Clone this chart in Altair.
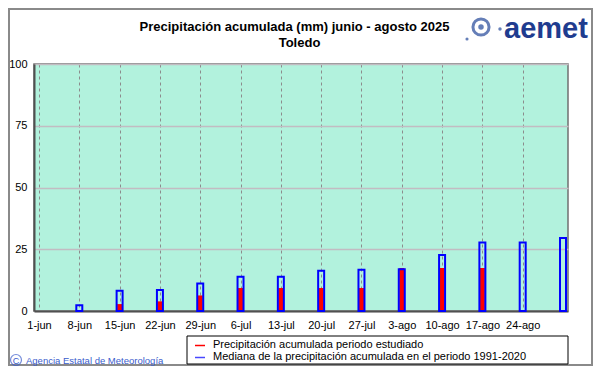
import altair as alt
import pandas as pd

# ---- data ----
week_labels = ["1-jun", "8-jun", "15-jun", "22-jun", "29-jun", "6-jul", "13-jul",
               "20-jul", "27-jul", "3-ago", "10-ago", "17-ago", "24-ago"]
bar_dates = ["8-jun", "15-jun", "22-jun", "29-jun", "6-jul", "13-jul", "20-jul",
             "27-jul", "3-ago", "10-ago", "17-ago", "24-ago", "31-ago"]
median_values = [2.3, 8.2, 8.5, 11.1, 13.9, 13.9, 16.3, 16.7, 16.9, 22.7, 27.7, 27.7, 29.6]
observed_values = [0.0, 2.8, 3.9, 6.3, 9.3, 9.3, 9.3, 9.3, 17.4, 17.4, 17.4, None, None]
y_ticks = [0, 25, 50, 75, 100]

title_line1 = "Precipitación acumulada (mm) junio - agosto 2025"
title_line2 = "Toledo"
legend_labels = ["Precipitación acumulada periodo estudiado",
                 "Mediana de la precipitación acumulada en el periodo 1991-2020"]
credit = "Agencia Estatal de Meteorología"
logo_text = "aemet"

# ---- tables ----
days = [7 * (i + 1) for i in range(len(bar_dates))]
df = pd.DataFrame({"fecha": bar_dates, "dia": days,
                   "mediana": median_values, "observada": observed_values})
one = pd.DataFrame({"k": [0]})

label_array = "[" + ",".join("'" + s + "'" for s in week_labels) + "]"
tick_days = [7 * i for i in range(len(week_labels))]

FONT = "Liberation Sans"

x_enc = alt.X(
    "dia:Q",
    scale=alt.Scale(domain=[0, 91], nice=False, zero=False),
    axis=alt.Axis(values=tick_days, labelExpr=label_array + "[round(datum.value/7)]",
                  title=None, grid=True, gridDash=[3, 3], gridColor="#8c8c8c",
                  gridWidth=1, domainColor="#505050", domainWidth=2, ticks=False,
                  labelFontSize=11, labelPadding=8, labelColor="#000000",
                  labelFlush=False, labelOverlap=False, labelFont=FONT),
)
y_axis = alt.Axis(values=y_ticks, title=None, grid=True, gridColor="#c2bcc2",
                  gridWidth=1.5, domainColor="#505050", domainWidth=2, ticks=False,
                  labelFontSize=11, labelPadding=7, labelColor="#000000", labelFont=FONT)

frame = alt.Chart(one).mark_rect(fillOpacity=0, stroke="#8a8a8a", strokeWidth=2).encode(
    x=alt.value(-25), x2=alt.value(558), y=alt.value(-55), y2=alt.value(301))

red = alt.Chart(df).mark_bar(color="#ff0000", size=5).encode(
    x=x_enc,
    y=alt.Y("observada:Q", scale=alt.Scale(domain=[0, 100], nice=False), axis=y_axis),
).transform_filter("isValid(datum.observada)")

blue = alt.Chart(df).mark_bar(fillOpacity=0, stroke="#0000ff", strokeWidth=2, size=6).encode(
    x=x_enc,
    y=alt.Y("mediana:Q", scale=alt.Scale(domain=[0, 100], nice=False), axis=y_axis),
)

t1 = alt.Chart(one).mark_text(text=title_line1, font=FONT, fontSize=13, fontWeight="bold",
                              align="center", baseline="middle", color="#000000").encode(
    x=alt.value(260.5), y=alt.value(-37))
t2 = alt.Chart(one).mark_text(text=title_line2, font=FONT, fontSize=13, fontWeight="bold",
                              align="center", baseline="middle", color="#000000").encode(
    x=alt.value(265.5), y=alt.value(-21))

logo = alt.Chart(one).mark_text(text=logo_text, font=FONT, fontSize=29, fontWeight="bold",
                                align="left", baseline="alphabetic", color="#1f3c8f").encode(
    x=alt.value(470), y=alt.value(-26))
ring1 = alt.Chart(one).mark_point(shape="circle", filled=False, color="#24489a",
                                  strokeWidth=3, size=260).encode(
    x=alt.value(447), y=alt.value(-37))
ring2 = alt.Chart(one).mark_point(shape="circle", filled=True, color="#24489a",
                                  size=30).encode(
    x=alt.value(447), y=alt.value(-37))
dot1 = alt.Chart(one).mark_point(shape="circle", filled=True, color="#24489a",
                                 size=12).encode(x=alt.value(466), y=alt.value(-35))
dot2 = alt.Chart(one).mark_point(shape="circle", filled=True, color="#24489a",
                                 size=10).encode(x=alt.value(433), y=alt.value(-25))

legend_box = alt.Chart(one).mark_rect(fill="#ffffff", stroke="#000000", strokeWidth=1).encode(
    x=alt.value(153), x2=alt.value(534), y=alt.value(272), y2=alt.value(300))
leg_red = alt.Chart(one).mark_rule(color="#ff0000", strokeWidth=1.5).encode(
    x=alt.value(161), x2=alt.value(171), y=alt.value(281.5))
leg_blue = alt.Chart(one).mark_rule(color="#4848ff", strokeWidth=1.5).encode(
    x=alt.value(161), x2=alt.value(171), y=alt.value(293.5))
leg_t1 = alt.Chart(one).mark_text(text=legend_labels[0], font=FONT, fontSize=11,
                                  align="left", baseline="middle", color="#000000").encode(
    x=alt.value(179), y=alt.value(281))
leg_t2 = alt.Chart(one).mark_text(text=legend_labels[1], font=FONT, fontSize=11,
                                  align="left", baseline="middle", color="#000000").encode(
    x=alt.value(179), y=alt.value(293))

copy_ring = alt.Chart(one).mark_point(shape="circle", filled=False, color="#3a5ccc",
                                      strokeWidth=1.2, size=120).encode(
    x=alt.value(-18), y=alt.value(296))
copy_c = alt.Chart(one).mark_text(text="C", font=FONT, fontSize=9,
                                  align="center", baseline="middle", color="#3a5ccc").encode(
    x=alt.value(-18), y=alt.value(296.5))
copy_txt = alt.Chart(one).mark_text(text=credit, font=FONT, fontSize=9.5,
                                    align="left", baseline="middle", color="#3a5ccc").encode(
    x=alt.value(-8), y=alt.value(296.5))

chart = alt.layer(
    frame, red, blue, t1, t2, logo, ring1, ring2, dot1, dot2,
    legend_box, leg_red, leg_blue, leg_t1, leg_t2, copy_ring, copy_c, copy_txt
).properties(
    width=534, height=247,
    autosize=alt.AutoSizeParams(type="none"),
    padding={"left": 26, "top": 56, "right": 25, "bottom": 55},
    background="#ffffff",
).configure_view(
    fill="#b2f2dd", stroke="#707070", strokeWidth=1.5
)

chart.save("out.html", embed_options={"renderer": "svg", "actions": False})
